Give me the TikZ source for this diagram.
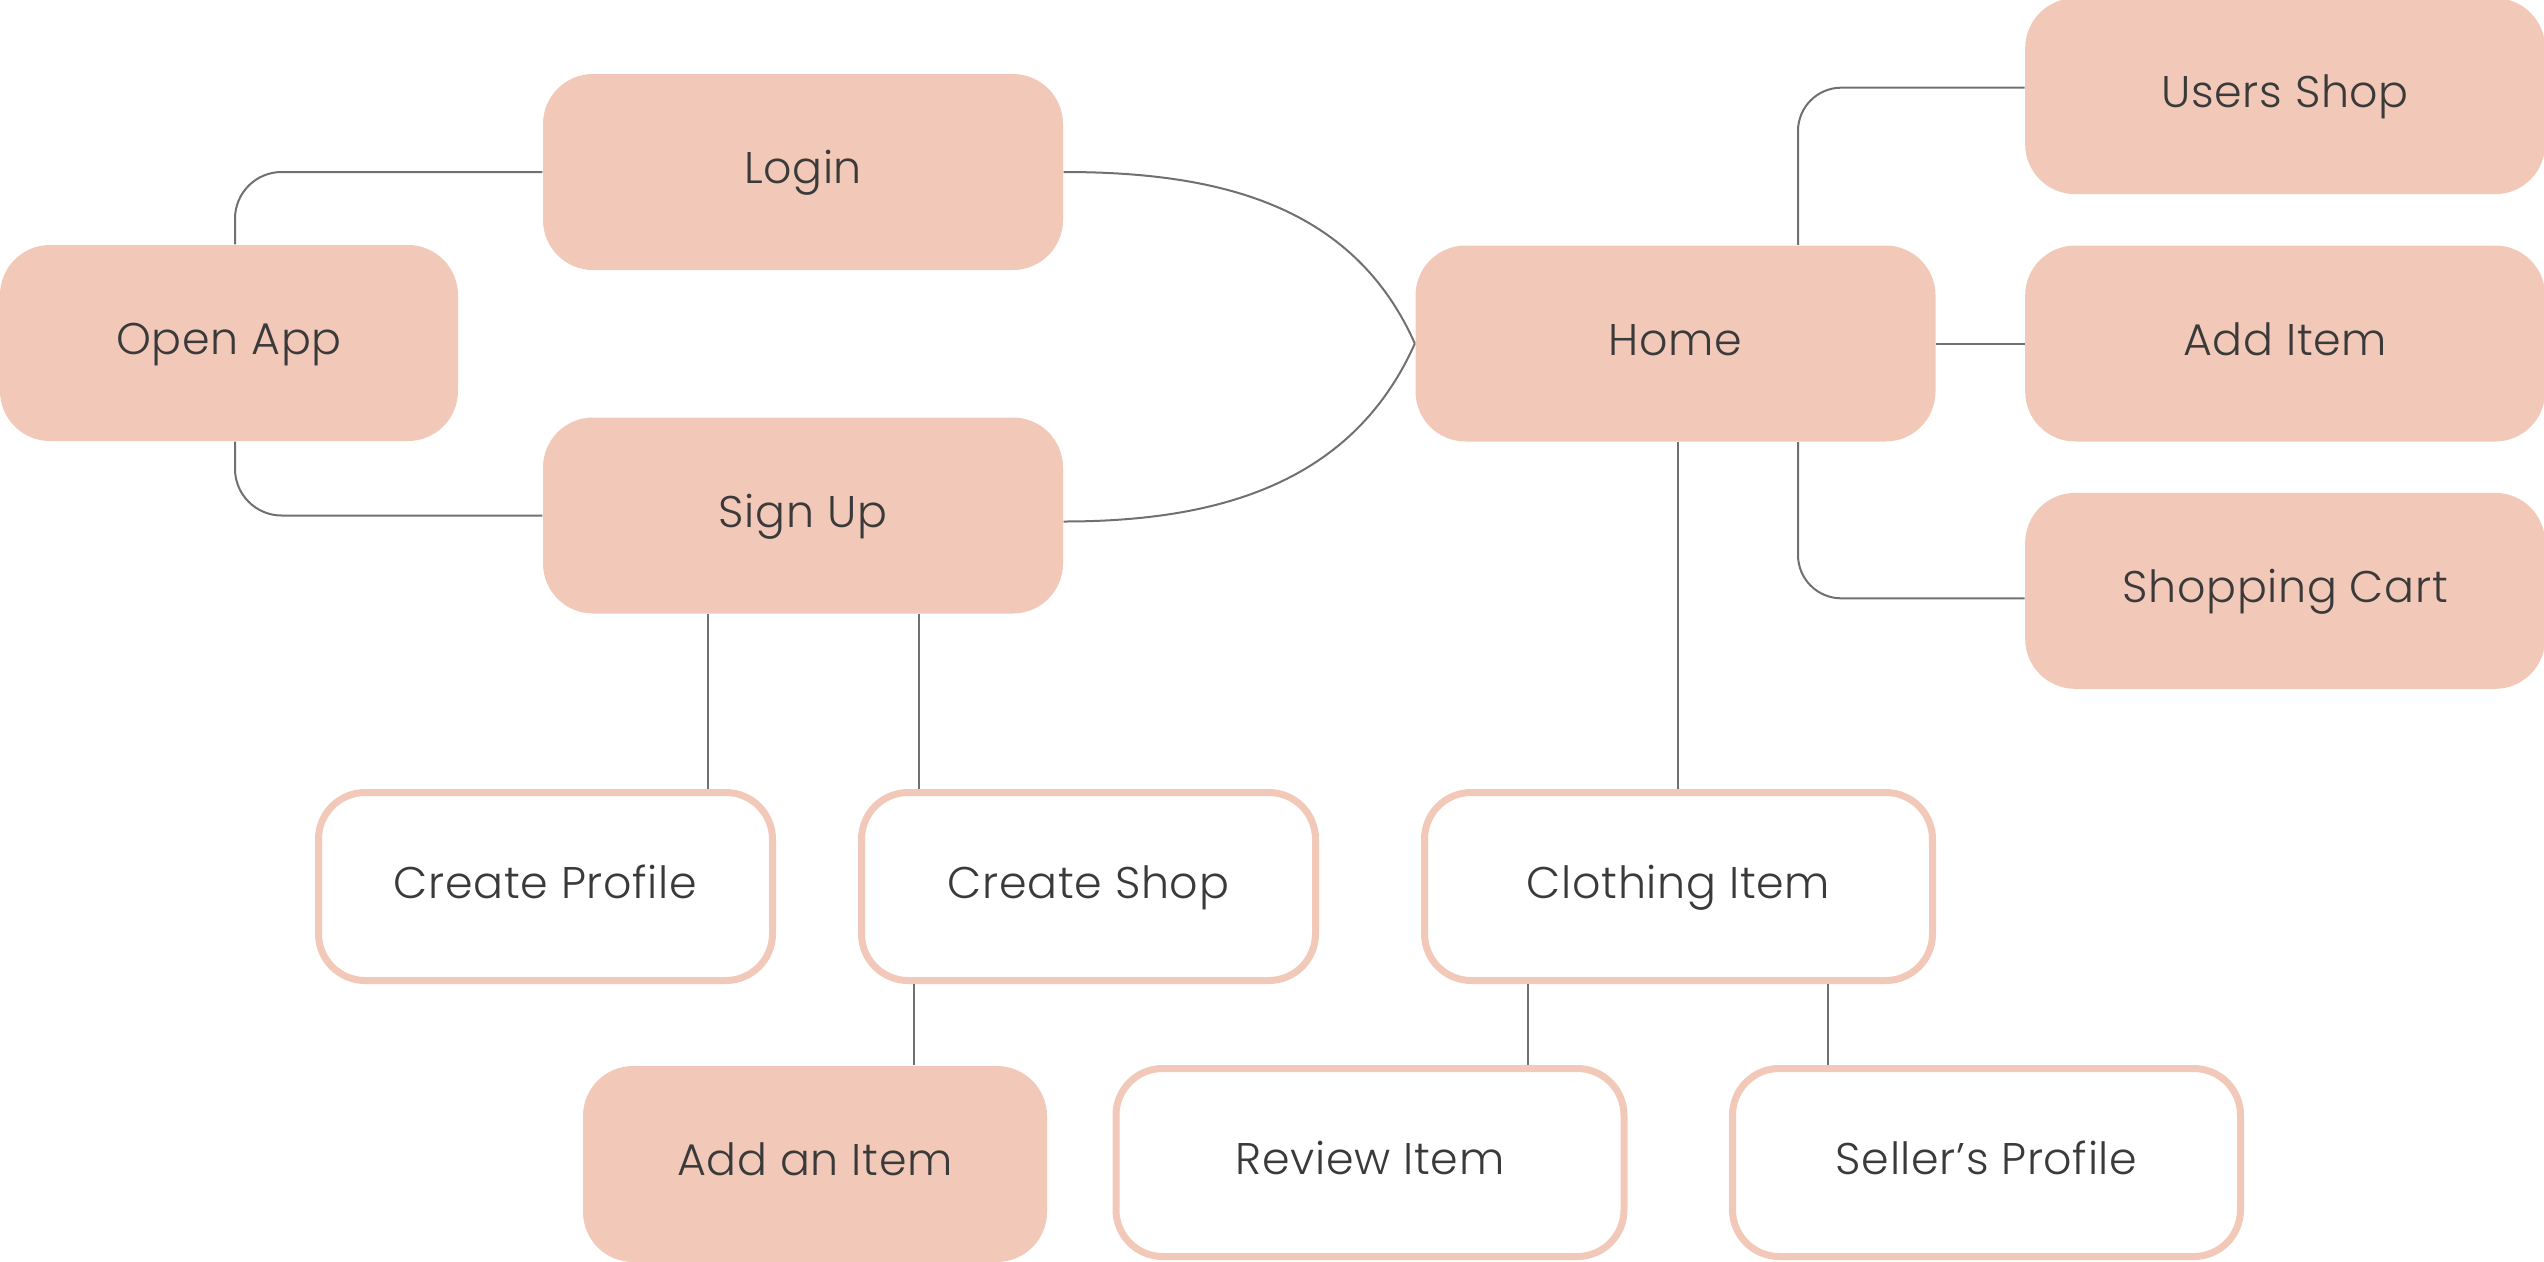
\documentclass[tikz,border=0pt]{standalone}
\usepackage{fontspec}
\setmainfont{Poppins}[UprightFont=* Light, LetterSpace=1.5]
\usetikzlibrary{positioning}
\definecolor{peach}{RGB}{242,201,184}
\definecolor{ink}{RGB}{58,58,58}
\definecolor{wire}{RGB}{112,112,112}
\tikzstyle{screen}=[rectangle, rounded corners=15pt, fill=peach, text=ink, inner sep=0pt,
  minimum width=156pt, minimum height=58.8pt, text height=9.3pt, text depth=2.4pt,
  font=\fontsize{13.3}{16}\selectfont]
\tikzstyle{option}=[screen, fill=white, draw=peach, line width=2.1pt, rounded corners=14pt,
  minimum width=152.4pt, minimum height=56.4pt]
\tikzstyle{link}=[draw=wire, line width=0.6pt]

\begin{document}
\begin{tikzpicture}[x=0.3pt, y=-0.3pt]
  \useasboundingbox (0,0) rectangle (2544,1262);

  \node[screen, minimum width=137.4pt] (open) at (229,343) {Open App};
  \node[screen]  (login)   at (803,172)   {Login};
  \node[screen]  (signup)  at (803,515.5) {Sign Up};
  \node[screen]  (home)    at (1675.5,343.5) {Home};
  \node[screen]  (additem) [right=26.5pt of home]  {Add Item};
  \node[screen]  (users)   [above=15pt of additem] {Users Shop};
  \node[screen]  (cart)    [below=15pt of additem] {Shopping Cart};

  \node[option, minimum width=136.2pt] (profile) at (545.5,886.5)  {Create Profile};
  \node[option, minimum width=136.2pt] (shop)    at (1088.5,886.5) {Create Shop};
  \node[option]                        (clothing) at (1678.5,886.5) {Clothing Item};
  \node[screen, minimum width=139.2pt] (newitem) at (815,1164)     {Add an Item};
  \node[option]                        (review)  at (1370,1162.5)  {Review Item};
  \node[option]                        (seller)  at (1986.5,1162.5) {Seller’s Profile};

  % start screens
  \draw[link, rounded corners=14pt] (235,0 |- open.north) |- (login.west);
  \draw[link, rounded corners=14pt] (235,0 |- open.south) |- (signup.west);
  \path[link]
    (login.east) edge[out=0, in=114] (home.west)
    ([yshift=-1.8pt]signup.east) edge[out=0, in=-114] (home.west)
    (home.east) edge (additem.west);

  % home menu
  \draw[link, rounded corners=13pt] (1798,0 |- home.north) |- ([yshift=2.55pt]users.west);
  \draw[link, rounded corners=13pt] (1798,0 |- home.south) |- ([yshift=-2.25pt]cart.west);

  % sub screens
  \path[link]
    (708,0 |- signup.south)   edge (708,0 |- profile.north)
    (919,0 |- signup.south)   edge (919,0 |- shop.north)
    (914,0 |- shop.south)     edge (914,0 |- newitem.north)
    (1678,0 |- home.south)    edge (1678,0 |- clothing.north)
    (1528,0 |- clothing.south) edge (1528,0 |- review.north)
    (1828,0 |- clothing.south) edge (1828,0 |- seller.north);
\end{tikzpicture}
\end{document}
